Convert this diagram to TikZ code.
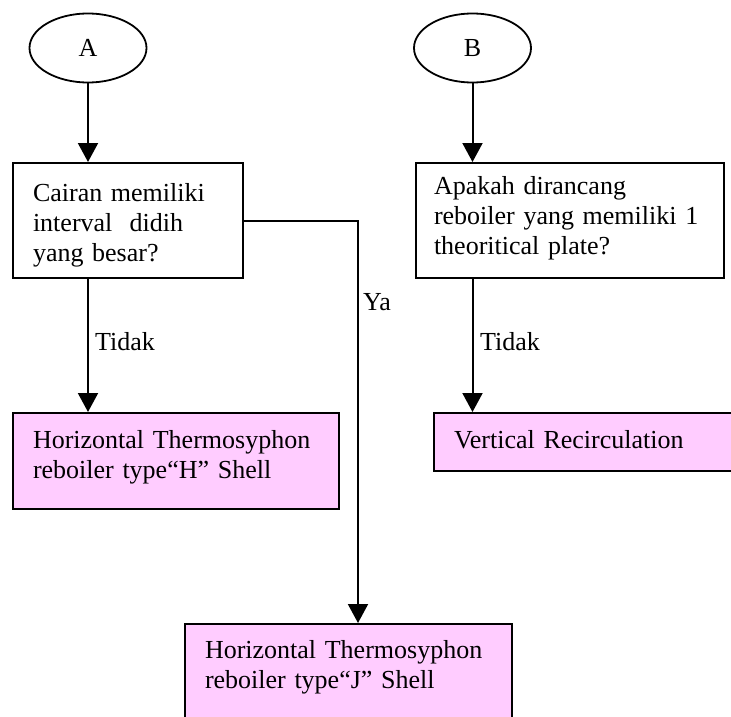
\documentclass[tikz,border=0pt]{standalone}
\usepackage{fontspec}
\setmainfont{Liberation Serif}
\usetikzlibrary{shapes.geometric,arrows.meta}
\definecolor{boxpink}{HTML}{FFCCFF}
\begin{document}
\begin{tikzpicture}[x=1pt,y=-1pt,
	font=\fontsize{26}{30}\selectfont,
	start/.style={draw,ellipse,line width=1.8pt,minimum width=117pt,minimum height=69pt,inner sep=0pt},
	box/.style={draw,line width=2pt,anchor=north west,align=left,inner xsep=20pt,inner ysep=0pt},
	result/.style={box,fill=boxpink},
	arr/.style={line width=2pt,-{Triangle[length=19pt,width=20pt]}},
	lbl/.style={anchor=base west,inner sep=0pt}]
	\useasboundingbox (0,0) rectangle (731,717);
	
	\node[start] (a) at (88,48) {A};
	\node[start] (b) at (472.5,48) {B};
	
	\node[box,text width=190pt,text height=38pt,text depth=77pt] (cairan) at (12,162) {Cairan memiliki\\interval\ \ didih\\yang besar?};
	\draw[arr] (a) -- (cairan.north -| a);
	\node[box,text width=272pt,inner xsep=18pt,text height=31pt,text depth=84pt] (apakah) at (415,162) {Apakah dirancang\\reboiler yang memiliki 1\\theoritical plate?};
	\draw[arr] (b) -- (apakah.north -| b);
	
	\node[result,text width=286pt,text height=35pt,text depth=61pt] (hshell) at (12,412) {Horizontal Thermosyphon\\reboiler type“H” Shell};
	\draw[arr] (cairan.south -| a) -- (hshell.north -| a);
	\node[lbl] (tidakA) at (95,350) {Tidak};
	
	\node[result,text width=272pt,text height=35pt,text depth=23pt] (vert) at (433,412) {Vertical Recirculation};
	\draw[arr] (apakah.south -| b) -- (vert.north -| b);
	\node[lbl] (tidakB) at (480,350) {Tidak};
	
	\node[result,text width=287pt,text height=34pt,text depth=110pt] (jshell) at (184,623) {Horizontal Thermosyphon\\reboiler type“J” Shell};
	\draw[arr] (cairan.east) -| ([xshift=9.5pt]jshell.north);
	\node[lbl] (ya) at (363,310) {Ya};
\end{tikzpicture}
\end{document}
